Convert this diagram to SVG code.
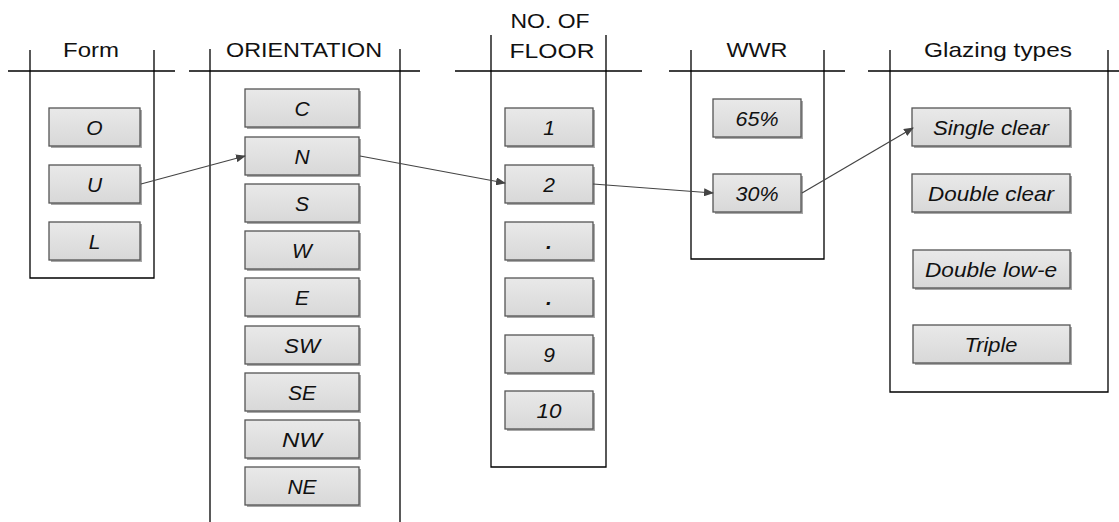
<svg xmlns="http://www.w3.org/2000/svg" width="1119" height="522" viewBox="0 0 1119 522">
<style>
.frame{stroke:#000;stroke-width:1.3;fill:none}
.box{fill:url(#g);stroke:#555;stroke-width:1.3}
.sh{fill:#a8a8a8}
.hd{font-family:"Liberation Sans",Arial,sans-serif;font-size:21px;fill:#111;text-anchor:middle}
.lb{font-family:"Liberation Sans",Arial,sans-serif;font-size:21px;font-style:italic;fill:#111;text-anchor:middle}
.conn{stroke:#444;stroke-width:1.2;fill:none;marker-end:url(#ah)}
</style>
<defs>
<linearGradient id="g" x1="0" y1="0" x2="0" y2="1">
<stop offset="0" stop-color="#e9e9e9"/>
<stop offset="1" stop-color="#d8d8d8"/>
</linearGradient>
<marker id="ah" markerWidth="10" markerHeight="8" refX="9" refY="4" orient="auto" markerUnits="userSpaceOnUse">
<path d="M0,0 L10,4 L0,8 Z" fill="#444"/>
</marker>
</defs>
<rect width="1119" height="522" fill="#fff"/>

<g id="col-form">
<line class="frame" x1="8" y1="71" x2="175" y2="71"/>
<polyline class="frame" points="30,50 30,278 154,278 154,50"/>
<text class="hd" x="91" y="57" textLength="56" lengthAdjust="spacingAndGlyphs">Form</text>
</g>
<g id="col-orientation">
<line class="frame" x1="189" y1="71" x2="420" y2="71"/>
<line class="frame" x1="210" y1="49" x2="210" y2="522"/>
<line class="frame" x1="400" y1="49" x2="400" y2="522"/>
<text class="hd" x="304" y="57" textLength="156" lengthAdjust="spacingAndGlyphs">ORIENTATION</text>
</g>
<g id="col-floor">
<line class="frame" x1="455" y1="71" x2="642" y2="71"/>
<polyline class="frame" points="491,35 491,467 606,467 606,35"/>
<text class="hd" x="550" y="28" textLength="79" lengthAdjust="spacingAndGlyphs">NO. OF</text>
<text class="hd" x="552" y="58" textLength="85" lengthAdjust="spacingAndGlyphs">FLOOR</text>
</g>
<g id="col-wwr">
<line class="frame" x1="669" y1="71" x2="845" y2="71"/>
<polyline class="frame" points="691,50 691,259 824,259 824,50"/>
<text class="hd" x="757" y="57" textLength="61" lengthAdjust="spacingAndGlyphs">WWR</text>
</g>
<g id="col-glazing">
<line class="frame" x1="868" y1="71" x2="1119" y2="71"/>
<polyline class="frame" points="890,50 890,392 1108,392 1108,50"/>
<text class="hd" x="998" y="57" textLength="148" lengthAdjust="spacingAndGlyphs">Glazing types</text>
</g>

<g id="form-O"><rect class="sh" x="51" y="110" width="91" height="38"/><rect class="box" x="49" y="108" width="91" height="38"/><text class="lb" x="94.5" y="135">O</text></g>
<g id="form-U"><rect class="sh" x="51" y="167" width="91" height="38"/><rect class="box" x="49" y="165" width="91" height="38"/><text class="lb" x="94.5" y="192">U</text></g>
<g id="form-L"><rect class="sh" x="51" y="224" width="91" height="38"/><rect class="box" x="49" y="222" width="91" height="38"/><text class="lb" x="94.5" y="249">L</text></g>

<g id="or-C"><rect class="sh" x="247" y="91" width="114" height="38"/><rect class="box" x="245" y="89" width="114" height="38"/><text class="lb" x="302" y="116">C</text></g>
<g id="or-N"><rect class="sh" x="247" y="139" width="114" height="38"/><rect class="box" x="245" y="137" width="114" height="38"/><text class="lb" x="302" y="164">N</text></g>
<g id="or-S"><rect class="sh" x="247" y="186" width="114" height="38"/><rect class="box" x="245" y="184" width="114" height="38"/><text class="lb" x="302" y="211">S</text></g>
<g id="or-W"><rect class="sh" x="247" y="233" width="114" height="38"/><rect class="box" x="245" y="231" width="114" height="38"/><text class="lb" x="302" y="258">W</text></g>
<g id="or-E"><rect class="sh" x="247" y="280" width="114" height="38"/><rect class="box" x="245" y="278" width="114" height="38"/><text class="lb" x="302" y="305">E</text></g>
<g id="or-SW"><rect class="sh" x="247" y="328" width="114" height="38"/><rect class="box" x="245" y="326" width="114" height="38"/><text class="lb" x="302" y="353" textLength="36" lengthAdjust="spacingAndGlyphs">SW</text></g>
<g id="or-SE"><rect class="sh" x="247" y="375" width="114" height="38"/><rect class="box" x="245" y="373" width="114" height="38"/><text class="lb" x="302" y="400">SE</text></g>
<g id="or-NW"><rect class="sh" x="247" y="422" width="114" height="38"/><rect class="box" x="245" y="420" width="114" height="38"/><text class="lb" x="302" y="447" textLength="40" lengthAdjust="spacingAndGlyphs">NW</text></g>
<g id="or-NE"><rect class="sh" x="247" y="469" width="114" height="38"/><rect class="box" x="245" y="467" width="114" height="38"/><text class="lb" x="302" y="494">NE</text></g>

<g id="fl-1"><rect class="sh" x="507" y="110" width="88" height="38"/><rect class="box" x="505" y="108" width="88" height="38"/><text class="lb" x="549" y="135">1</text></g>
<g id="fl-2"><rect class="sh" x="507" y="167" width="88" height="38"/><rect class="box" x="505" y="165" width="88" height="38"/><text class="lb" x="549" y="192">2</text></g>
<g id="fl-dot1"><rect class="sh" x="507" y="224" width="88" height="38"/><rect class="box" x="505" y="222" width="88" height="38"/><text class="lb" x="549" y="249" font-weight="bold">.</text></g>
<g id="fl-dot2"><rect class="sh" x="507" y="280" width="88" height="38"/><rect class="box" x="505" y="278" width="88" height="38"/><text class="lb" x="549" y="305" font-weight="bold">.</text></g>
<g id="fl-9"><rect class="sh" x="507" y="337" width="88" height="38"/><rect class="box" x="505" y="335" width="88" height="38"/><text class="lb" x="549" y="362">9</text></g>
<g id="fl-10"><rect class="sh" x="507" y="393" width="88" height="38"/><rect class="box" x="505" y="391" width="88" height="38"/><text class="lb" x="549" y="418" textLength="25" lengthAdjust="spacingAndGlyphs">10</text></g>

<g id="wwr-65"><rect class="sh" x="715" y="101" width="88" height="38"/><rect class="box" x="713" y="99" width="88" height="38"/><text class="lb" x="757" y="126" textLength="43" lengthAdjust="spacingAndGlyphs">65%</text></g>
<g id="wwr-30"><rect class="sh" x="715" y="176" width="88" height="38"/><rect class="box" x="713" y="174" width="88" height="38"/><text class="lb" x="757" y="201" textLength="43" lengthAdjust="spacingAndGlyphs">30%</text></g>

<g id="gl-single"><rect class="sh" x="914" y="110" width="158" height="38"/><rect class="box" x="912" y="108" width="158" height="38"/><text class="lb" x="991" y="135" textLength="116" lengthAdjust="spacingAndGlyphs">Single clear</text></g>
<g id="gl-double"><rect class="sh" x="914" y="176" width="158" height="38"/><rect class="box" x="912" y="174" width="158" height="38"/><text class="lb" x="991" y="201" textLength="126" lengthAdjust="spacingAndGlyphs">Double clear</text></g>
<g id="gl-lowe"><rect class="sh" x="915" y="252" width="157" height="38"/><rect class="box" x="913" y="250" width="157" height="38"/><text class="lb" x="991" y="277" textLength="132" lengthAdjust="spacingAndGlyphs">Double low-e</text></g>
<g id="gl-triple"><rect class="sh" x="915" y="327" width="157" height="38"/><rect class="box" x="913" y="325" width="157" height="38"/><text class="lb" x="991" y="352" textLength="53" lengthAdjust="spacingAndGlyphs">Triple</text></g>

<g id="connectors">
<line class="conn" x1="141" y1="184" x2="245" y2="156"/>
<line class="conn" x1="360" y1="156" x2="505" y2="183"/>
<line class="conn" x1="593" y1="184" x2="713" y2="193"/>
<line class="conn" x1="802" y1="193" x2="913" y2="128"/>
</g>
</svg>
